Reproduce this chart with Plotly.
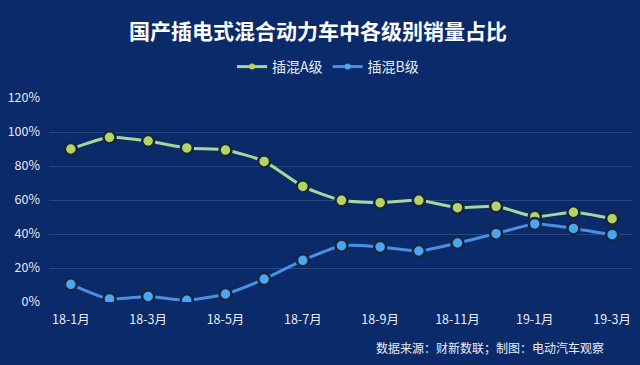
import plotly.graph_objects as go

months = ["18-1月", "18-2月", "18-3月", "18-4月", "18-5月", "18-6月", "18-7月", "18-8月",
          "18-9月", "18-10月", "18-11月", "18-12月", "19-1月", "19-2月", "19-3月"]
series_a = [90.0, 96.9, 94.7, 90.6, 89.4, 82.7, 68.0, 59.8, 58.4, 59.8, 55.5, 56.3, 50.2, 52.8, 49.0]
series_b = [10.4, 1.8, 3.3, 1.0, 4.7, 13.5, 24.5, 33.1, 32.4, 30.0, 34.7, 40.2, 45.9, 43.3, 39.6]
names = ["插混A级", "插混B级"]
tick_idx = [0, 2, 4, 6, 8, 10, 12, 14]
y_ticks = [0, 20, 40, 60, 80, 100, 120]

bg = "#0a2a6a"
font_family = "Noto Sans CJK SC, Noto Sans, sans-serif"
x = list(range(len(months)))
styles = [("#a9d69a", "#b5d468"), ("#4a90e2", "#4aa5f2")]

fig = go.Figure()
for name, vals, (lc, mc) in zip(names, [series_a, series_b], styles):
    fig.add_trace(go.Scatter(
        x=x, y=vals, name=name, mode="lines+markers", showlegend=False,
        line=dict(color=lc, width=3, shape="spline", smoothing=0.6),
        marker=dict(size=12, color=mc, line=dict(color="#17263f", width=2.5)),
    ))
for name, (lc, mc) in zip(names, styles):
    fig.add_trace(go.Scatter(
        x=[None], y=[None], name=name, mode="lines+markers",
        line=dict(color=lc, width=3),
        marker=dict(size=6, color=mc, line=dict(width=0)),
    ))

plot_left, plot_right = 45, 632
plot_top, plot_bottom = 98, 302
plot_w = plot_right - plot_left
plot_h = plot_bottom - plot_top

fig.update_layout(
    width=640, height=365,
    paper_bgcolor=bg, plot_bgcolor=bg,
    margin=dict(l=plot_left, r=640 - plot_right, t=plot_top, b=365 - plot_bottom),
    font=dict(family=font_family, color="#e6ecf5", size=12),
    title=dict(text="<b>国产插电式混合动力车中各级别销量占比</b>", x=(318 - 0) / 640,
               xanchor="center", yref="container", y=1 - 32 / 365, yanchor="middle",
               font=dict(size=21, color="#ffffff", family=font_family)),
    legend=dict(orientation="h", x=(326 - plot_left) / plot_w, xanchor="center",
                y=(plot_bottom - 67) / plot_h, yanchor="middle",
                font=dict(size=14, color="#e6ecf5"),
                bgcolor="rgba(0,0,0,0)", itemwidth=30),
    showlegend=True,
    xaxis=dict(range=[-0.565, 14.514], tickmode="array", tickvals=tick_idx,
               ticktext=[months[i] for i in tick_idx], showgrid=False, zeroline=False,
               showline=False, ticks="", ticklabelstandoff=8,
               tickfont=dict(size=12.5, color="#e6ecf5")),
    yaxis=dict(range=[0, 120], tickmode="array", tickvals=y_ticks,
               ticktext=[f"{v}%" for v in y_ticks], showgrid=True,
               gridcolor="rgba(120,150,210,0.28)", gridwidth=1, zeroline=False,
               showline=False, ticks="", ticklabelstandoff=8,
               tickfont=dict(size=12.5, color="#e6ecf5")),
)
fig.add_annotation(text="数据来源：财新数联；制图：电动汽车观察", xref="paper", yref="paper",
                   x=(606 - plot_left) / plot_w, xanchor="right",
                   y=-(347 - plot_bottom) / plot_h, yanchor="middle", showarrow=False,
                   font=dict(size=12, color="#e6ecf5", family=font_family))

fig.write_html("out.html", config={"displayModeBar": False},
               post_script="document.body.style.margin='0';document.body.style.padding='0';"
                           "document.body.style.background='" + bg + "';")
